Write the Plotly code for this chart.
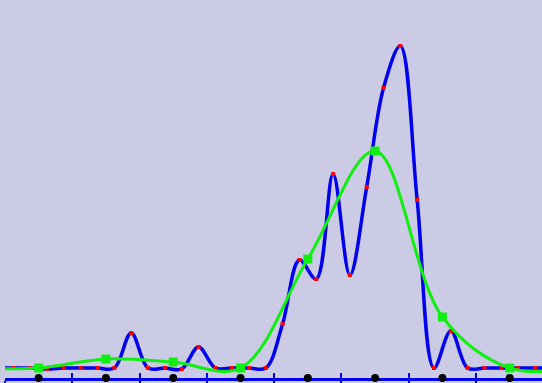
import plotly.graph_objects as go

# Blue series: 4 samples per category (x in category units), values in chart units
blue_x = [-0.125] + [0.125 + 0.25 * k for k in range(32)] + [8.125]
blue_y = [10,
          10, 10, 9, 10, 10, 10, 10, 45,
          10, 10, 9, 31, 10, 10, 10, 10,
          54, 118, 99, 204, 103, 191, 290, 332,
          178, 10, 47, 10, 10, 10, 10, 10,
          10]

# Green series: one sample per category
green_x = [-0.5, 0.5, 1.5, 2.5, 3.5, 4.5, 5.5, 6.5, 7.5, 8.5]
green_y = [10, 10, 19, 16, 10, 119, 227, 61, 10, 10]

# Category markers on the axis
cat_x = [0.5, 1.5, 2.5, 3.5, 4.5, 5.5, 6.5, 7.5]
cat_y = [0, 0, 0, 0, 0, 0, 0, 0]

tick_vals = [0, 1, 2, 3, 4, 5, 6, 7, 8]

BG = "#cbcbe5"
BLUE = "#0000ee"
GREEN = "#11ee11"

fig = go.Figure()
# empty trace so the overlay axis (inside tick halves) is drawn underneath
fig.add_trace(go.Scatter(x=[], y=[], xaxis="x2", showlegend=False, hoverinfo="skip"))
fig.add_trace(go.Scatter(
    x=blue_x, y=blue_y, mode="lines+markers",
    line=dict(color=BLUE, width=3.5, shape="spline", smoothing=1),
    marker=dict(symbol="square", size=4, color="#ff0000", line=dict(width=0)),
    showlegend=False, hoverinfo="skip"))
fig.add_trace(go.Scatter(
    x=green_x, y=green_y, mode="lines+markers",
    line=dict(color=GREEN, width=3, shape="spline", smoothing=1),
    marker=dict(symbol="square", size=9, color=GREEN, line=dict(width=0)),
    showlegend=False, hoverinfo="skip"))
fig.add_trace(go.Scatter(
    x=cat_x, y=cat_y, mode="markers",
    marker=dict(symbol="circle", size=8, color="#000000", line=dict(width=0)),
    cliponaxis=False, showlegend=False, hoverinfo="skip"))

axis_common = dict(range=[0, 7.98], showgrid=False, zeroline=False,
                   showticklabels=False, tickmode="array", tickvals=tick_vals,
                   tickcolor=BLUE, tickwidth=2, ticklen=5,
                   linecolor=BLUE, linewidth=3, layer="below traces")
fig.update_layout(
    width=542, height=383,
    margin=dict(l=5, r=0, t=0, b=5),
    paper_bgcolor=BG, plot_bgcolor=BG,
    xaxis=dict(ticks="outside", showline=True, **axis_common),
    xaxis2=dict(ticks="inside", showline=False, overlaying="x", anchor="y",
                side="bottom", **axis_common),
    yaxis=dict(range=[0, 378], visible=False),
)
fig.write_html("out.html", config={"displayModeBar": False},
               post_script="document.body.style.margin='0';document.body.style.background='%s';" % BG)
